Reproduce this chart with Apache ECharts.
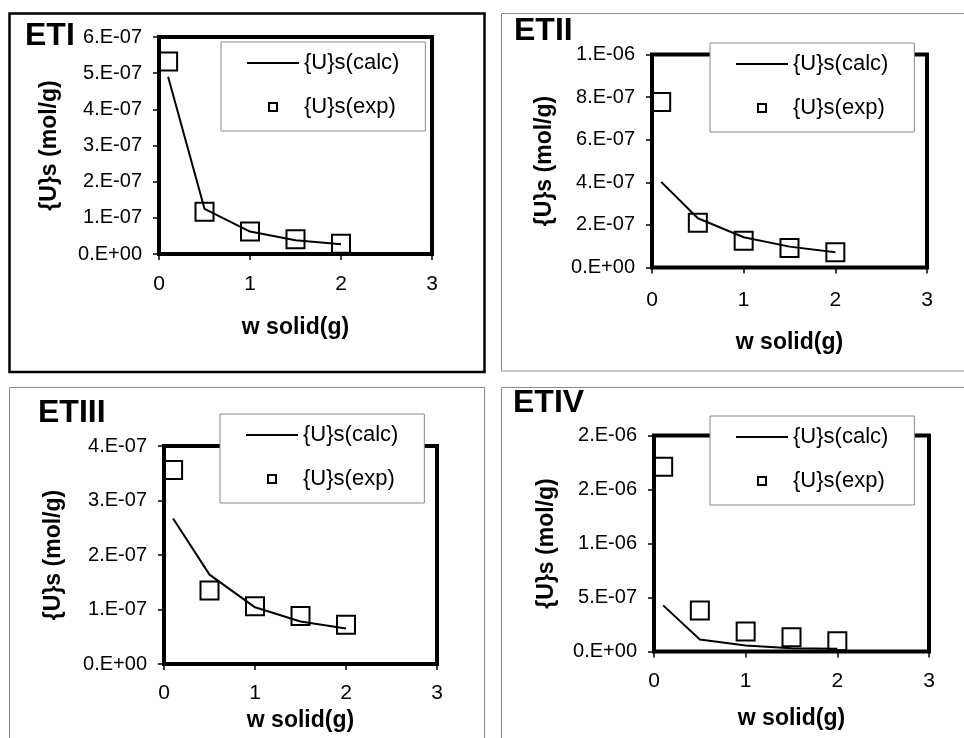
<!DOCTYPE html>
<html>
<head>
<meta charset="utf-8">
<script src="https://cdn.jsdelivr.net/npm/echarts@6/dist/echarts.min.js"></script>
<style>
html,body{margin:0;padding:0;background:#fff;}
#chart{width:964px;height:738px;}
</style>
</head>
<body>
<div id="chart"></div>
<script>
// ---- data ----
var wSolid = [0.1, 0.5, 1, 1.5, 2];
var panelTitles = ['ETI', 'ETII', 'ETIII', 'ETIV'];
var seriesNames = ['{U}s(calc)', '{U}s(exp)'];

var etiCalc   = [4.9e-7, 1.25e-7, 0.62e-7, 0.38e-7, 0.27e-7];
var etiExp    = [5.32e-7, 1.17e-7, 0.62e-7, 0.41e-7, 0.28e-7];
var etiiCalc  = [4.02e-7, 2.31e-7, 1.42e-7, 0.98e-7, 0.72e-7];
var etiiExp   = [7.77e-7, 2.1e-7, 1.26e-7, 0.91e-7, 0.72e-7];
var etiiiCalc = [2.67e-7, 1.64e-7, 1.04e-7, 0.78e-7, 0.65e-7];
var etiiiExp  = [3.56e-7, 1.35e-7, 1.06e-7, 0.88e-7, 0.72e-7];
var etivCalc  = [4.27e-7, 1.11e-7, 0.56e-7, 0.31e-7, 0.25e-7];
var etivExp   = [1.71e-6, 3.8e-7, 1.86e-7, 1.33e-7, 0.96e-7];

var xTickLabels = ['0', '1', '2', '3'];
var yTickLabelsETI   = ['0.E+00', '1.E-07', '2.E-07', '3.E-07', '4.E-07', '5.E-07', '6.E-07'];
var yTickLabelsETII  = ['0.E+00', '2.E-07', '4.E-07', '6.E-07', '8.E-07', '1.E-06'];
var yTickLabelsETIII = ['0.E+00', '1.E-07', '2.E-07', '3.E-07', '4.E-07'];
var yTickLabelsETIV  = ['0.E+00', '5.E-07', '1.E-06', '2.E-06', '2.E-06'];

var xLabel = 'w solid(g)';
var yLabel = '{U}s (mol/g)';

// ---- layout ----
var FONT = "'Liberation Sans', Arial, Helvetica, sans-serif";
var panels = [
  {calc: etiCalc,   exp: etiExp,   yLabels: yTickLabelsETI,   yInt: 1e-7,
   grid: {left: 159, top: 37, width: 273, height: 217}, xGap: 62, yGap: 98, xMargin: 20,
   legend: {left: 221, top: 42}, title: {x: 25, y: 36}},
  {calc: etiiCalc,  exp: etiiExp,  yLabels: yTickLabelsETII,  yInt: 2e-7,
   grid: {left: 652, top: 54.5, width: 275, height: 213}, xGap: 64, yGap: 96, xMargin: 22,
   legend: {left: 710, top: 43}, title: {x: 514, y: 31}},
  {calc: etiiiCalc, exp: etiiiExp, yLabels: yTickLabelsETIII, yInt: 1e-7,
   grid: {left: 164, top: 446, width: 273, height: 218}, xGap: 45, yGap: 99, xMargin: 19,
   legend: {left: 220, top: 414}, title: {x: 38, y: 413}},
  {calc: etivCalc,  exp: etivExp,  yLabels: yTickLabelsETIV,  yInt: 5e-7,
   grid: {left: 654, top: 435.5, width: 275, height: 216}, xGap: 56, yGap: 96, xMargin: 19,
   legend: {left: 710, top: 416}, title: {x: 513, y: 403}}
];

var grids = [], xAxes = [], yAxes = [], series = [], legends = [], graphics = [];

panels.forEach(function (p, i) {
  grids.push({left: p.grid.left, top: p.grid.top, width: p.grid.width, height: p.grid.height,
    show: true, borderColor: '#000', borderWidth: 4, backgroundColor: 'transparent'});
  xAxes.push({
    type: 'value', gridIndex: i, min: 0, max: 3, interval: 1,
    name: xLabel, nameLocation: 'middle', nameGap: p.xGap,
    nameTextStyle: {fontFamily: FONT, fontSize: 23, fontWeight: 'bold', color: '#000'},
    axisLine: {show: false},
    axisTick: {show: true, length: 6, lineStyle: {color: '#000', width: 1.5}},
    axisLabel: {fontFamily: FONT, fontSize: 21, color: '#000', margin: p.xMargin,
      formatter: function (v) { return xTickLabels[Math.round(v)]; }},
    splitLine: {show: false}
  });
  var labs = p.yLabels, yInt = p.yInt;
  yAxes.push({
    type: 'value', gridIndex: i, min: 0, max: yInt * (labs.length - 1), interval: yInt,
    name: yLabel, nameLocation: 'middle', nameGap: p.yGap,
    nameTextStyle: {fontFamily: FONT, fontSize: 23, fontWeight: 'bold', color: '#000'},
    axisLine: {show: false},
    axisTick: {show: true, length: 6, lineStyle: {color: '#000', width: 1.5}},
    axisLabel: {fontFamily: FONT, fontSize: 20, color: '#000', margin: 17,
      formatter: function (v) { return labs[Math.round(v / yInt)]; }},
    splitLine: {show: false}
  });
  series.push({
    name: seriesNames[0], type: 'line', xAxisIndex: i, yAxisIndex: i,
    data: wSolid.map(function (x, k) { return [x, p.calc[k]]; }),
    symbol: 'none', lineStyle: {color: '#000', width: 2}, itemStyle: {color: '#000'},
    animation: false, z: 3
  });
  series.push({
    name: seriesNames[1], type: 'scatter', xAxisIndex: i, yAxisIndex: i,
    data: wSolid.map(function (x, k) { return [x, p.exp[k]]; }),
    symbol: 'rect', symbolSize: 18,
    itemStyle: {color: 'transparent', borderColor: '#000', borderWidth: 2, opacity: 1},
    animation: false, z: 4
  });
  legends.push({
    left: p.legend.left, top: p.legend.top, orient: 'vertical',
    backgroundColor: '#fff', borderColor: '#8a8a8a', borderWidth: 1,
    padding: [10, 26, 13, 26], itemGap: 22, itemWidth: 52, itemHeight: 8,
    textStyle: {fontFamily: FONT, fontSize: 22, color: '#000'},
    selectedMode: false, z: 10,
    data: [
      {name: seriesNames[0], icon: 'path://M0,0H52V2H0Z', itemStyle: {color: '#000', borderWidth: 0}},
      {name: seriesNames[1], icon: 'path://M0,0H10V10H0Z', itemStyle: {color: '#fff', borderColor: '#000', borderWidth: 2}}
    ]
  });
  graphics.push({type: 'text', left: p.title.x, top: p.title.y - 16, z: 20,
    style: {text: panelTitles[i], font: 'bold 32px ' + FONT, fill: '#000'}});
});

// panel frames
graphics.push({type: 'rect', shape: {x: 9.5, y: 13.5, width: 475, height: 358.5}, z: -1,
  style: {fill: 'none', stroke: '#000', lineWidth: 2.5}});
graphics.push({type: 'rect', shape: {x: 501.5, y: 13.5, width: 480, height: 357.5}, z: -1,
  style: {fill: 'none', stroke: '#8a8a8a', lineWidth: 1}});
graphics.push({type: 'rect', shape: {x: 9.5, y: 387.5, width: 475, height: 370}, z: -1,
  style: {fill: 'none', stroke: '#8a8a8a', lineWidth: 1}});
graphics.push({type: 'rect', shape: {x: 501.5, y: 387.5, width: 480, height: 370}, z: -1,
  style: {fill: 'none', stroke: '#8a8a8a', lineWidth: 1}});

var chart = echarts.init(document.getElementById('chart'), null, {renderer: 'canvas'});
chart.setOption({
  animation: false,
  backgroundColor: '#fff',
  grid: grids, xAxis: xAxes, yAxis: yAxes, series: series,
  legend: legends, graphic: graphics
});
</script>
</body>
</html>
